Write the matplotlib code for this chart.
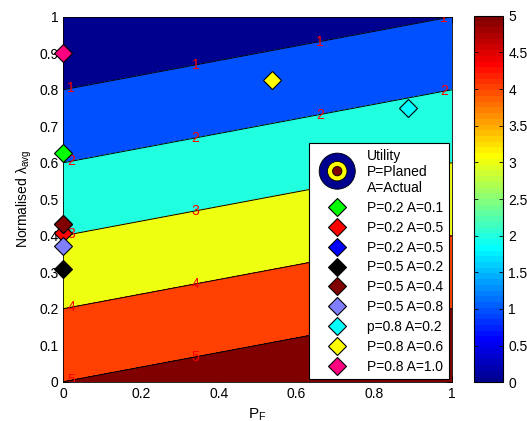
import numpy as np
import matplotlib
matplotlib.use("Agg")
import matplotlib.pyplot as plt
from matplotlib.colors import ListedColormap, Normalize
from matplotlib.lines import Line2D
from matplotlib.patches import Circle
from matplotlib.legend_handler import HandlerBase
import matplotlib.cm as cm

plt.rcParams['font.family'] = ['Liberation Sans', 'DejaVu Sans']
plt.rcParams['mathtext.default'] = 'regular'

# ---- data ----
contour_levels = [1, 2, 3, 4, 5]
line_y_at_x0 = [0.8, 0.6, 0.4, 0.2, 0.0]
line_y_at_x1 = [1.0, 0.8, 0.6, 0.4, 0.2]

marker_labels = ['P=0.2 A=0.1', 'P=0.2 A=0.5', 'P=0.2 A=0.5', 'P=0.5 A=0.2',
                 'P=0.5 A=0.4', 'P=0.5 A=0.8', 'p=0.8 A=0.2', 'P=0.8 A=0.6',
                 'P=0.8 A=1.0']
marker_x = [0.0, 0.0, 0.0, 0.0, 0.0, 0.0, 0.887, 0.537, 0.0]
marker_y = [0.627, 0.407, 0.431, 0.308, 0.431, 0.371, 0.75, 0.827, 0.9]
marker_colors = [(0, 1, 0), (1, 0, 0), (0, 0, 1), (0, 0, 0), (0.5, 0, 0),
                 (0.5, 0.5, 1), (0, 1, 1), (1, 1, 0), (1, 0, 0.5)]

label_x = [0.02, 0.34, 0.66, 0.98]
xticks = [0, 0.2, 0.4, 0.6, 0.8, 1]
yticks = [0, 0.1, 0.2, 0.3, 0.4, 0.5, 0.6, 0.7, 0.8, 0.9, 1]
cbar_ticks = [0, 0.5, 1, 1.5, 2, 2.5, 3, 3.5, 4, 4.5, 5]


def matlab_jet(m=64):
    n = int(np.ceil(m / 4))
    u = np.concatenate([np.arange(1, n + 1) / n, np.ones(n - 1), np.arange(n, 0, -1) / n])
    g = int(np.ceil(n / 2)) - (1 if m % 4 == 1 else 0) + np.arange(1, len(u) + 1)
    r = g + n
    b = g - n
    g = g[g <= m]
    r = r[r <= m]
    b = b[b >= 1]
    J = np.zeros((m, 3))
    J[r - 1, 0] = u[:len(r)]
    J[g - 1, 1] = u[:len(g)]
    J[b - 1, 2] = u[len(u) - len(b):]
    return J


jet = matlab_jet(64)
cmap = ListedColormap(jet)
cmin, cmax = 0, 5


def jet_color(v):
    idx = int(np.fix((v - cmin) / (cmax - cmin) * 64))
    idx = min(max(idx, 0), 63)
    return jet[idx]


# build field from the read line positions
slope = (np.array(line_y_at_x1) - np.array(line_y_at_x0)).mean()
coef = np.polyfit(line_y_at_x0, contour_levels, 1)
xg = np.linspace(0, 1, 201)
yg = np.linspace(0, 1, 201)
X, Y = np.meshgrid(xg, yg)
Z = np.polyval(coef, Y - slope * X)

fig = plt.figure(figsize=(5.27, 4.21), dpi=100)
ax = fig.add_axes([0.1201, 0.0933, 0.7376, 0.867])
ax.set_axisbelow(True)

fill_levels = [Z.min() - 1e-9] + contour_levels + [Z.max() + 1e-9]
fill_colors = [jet_color(v) for v in [0] + contour_levels]
ax.contourf(X, Y, Z, levels=fill_levels, colors=fill_colors)
cs = ax.contour(X, Y, Z, levels=contour_levels, colors='k', linewidths=0.7)

# contour labels
positions = []
for lv, y0, y1 in zip(contour_levels, line_y_at_x0, line_y_at_x1):
    for lx in label_x:
        ly = y0 + (y1 - y0) * lx
        if lx > 0.6 and lv >= 3:
            continue
        positions.append((lx, ly))
cl = ax.clabel(cs, manual=positions, inline=False, colors='red', fontsize=10, fmt='%d')
for t in cl:
    t.set_rotation(0)

# markers
handles = []
for mx, my, mc, lab in zip(marker_x, marker_y, marker_colors, marker_labels):
    ax.plot([mx], [my], ls='none', marker='D', ms=9, mfc=mc, mec='k', mew=0.8,
            clip_on=False, zorder=5)
    handles.append(Line2D([], [], ls='none', marker='D', ms=9, mfc=mc, mec='k', mew=0.8))


class UtilityHandler(HandlerBase):
    def create_artists(self, legend, orig_handle, xdescent, ydescent, width, height,
                       fontsize, trans):
        cx = width / 2 - xdescent
        cy = height / 2 - ydescent + 1
        r = 13.0
        a1 = Circle((cx, cy), r, fc=(0, 0, 0.56), ec='k', lw=0.6, transform=trans)
        a2 = Circle((cx, cy), r * 0.54, fc=(1, 1, 0), ec='k', lw=0.6, transform=trans)
        a3 = Circle((cx, cy), r * 0.26, fc=(0.5, 0, 0), ec='k', lw=0.6, transform=trans)
        return [a1, a2, a3]


util_handle = object()
leg = ax.legend([util_handle] + handles, ['Utility\nP=Planed\nA=Actual'] + marker_labels,
                handler_map={util_handle.__class__: UtilityHandler()},
                loc='lower right', bbox_to_anchor=(0.992, 0.007),
                fontsize=10, frameon=True, fancybox=False, edgecolor='k',
                framealpha=1, borderpad=0.4, labelspacing=0.42,
                handlelength=3.3, handletextpad=0.5, borderaxespad=0)
leg.get_frame().set_linewidth(0.8)
leg.set_zorder(10)

ax.set_xlim(0, 1)
ax.set_ylim(0, 1)
ax.set_xticks(xticks)
ax.set_yticks(yticks)
ax.set_xticklabels(['%g' % v for v in xticks])
ax.set_yticklabels(['%g' % v for v in yticks])
ax.tick_params(direction='in', length=4, top=True, right=True, labelsize=10, width=0.6)
for s in ax.spines.values():
    s.set_linewidth(0.6)
ax.set_xlabel('P$_F$', fontsize=11)
ax.set_ylabel('Normalised $\\lambda_{avg}$', fontsize=10)

cax = fig.add_axes([0.8994, 0.0919, 0.0556, 0.8708])
sm = cm.ScalarMappable(norm=Normalize(cmin, cmax), cmap=cmap)
cb = fig.colorbar(sm, cax=cax)
cb.set_ticks(cbar_ticks)
cb.set_ticklabels(['%g' % v for v in cbar_ticks])
cax.tick_params(direction='in', length=3, left=True, right=True, labelsize=10, width=0.6)
cb.outline.set_linewidth(0.8)

fig.savefig('out.png', dpi=100)
